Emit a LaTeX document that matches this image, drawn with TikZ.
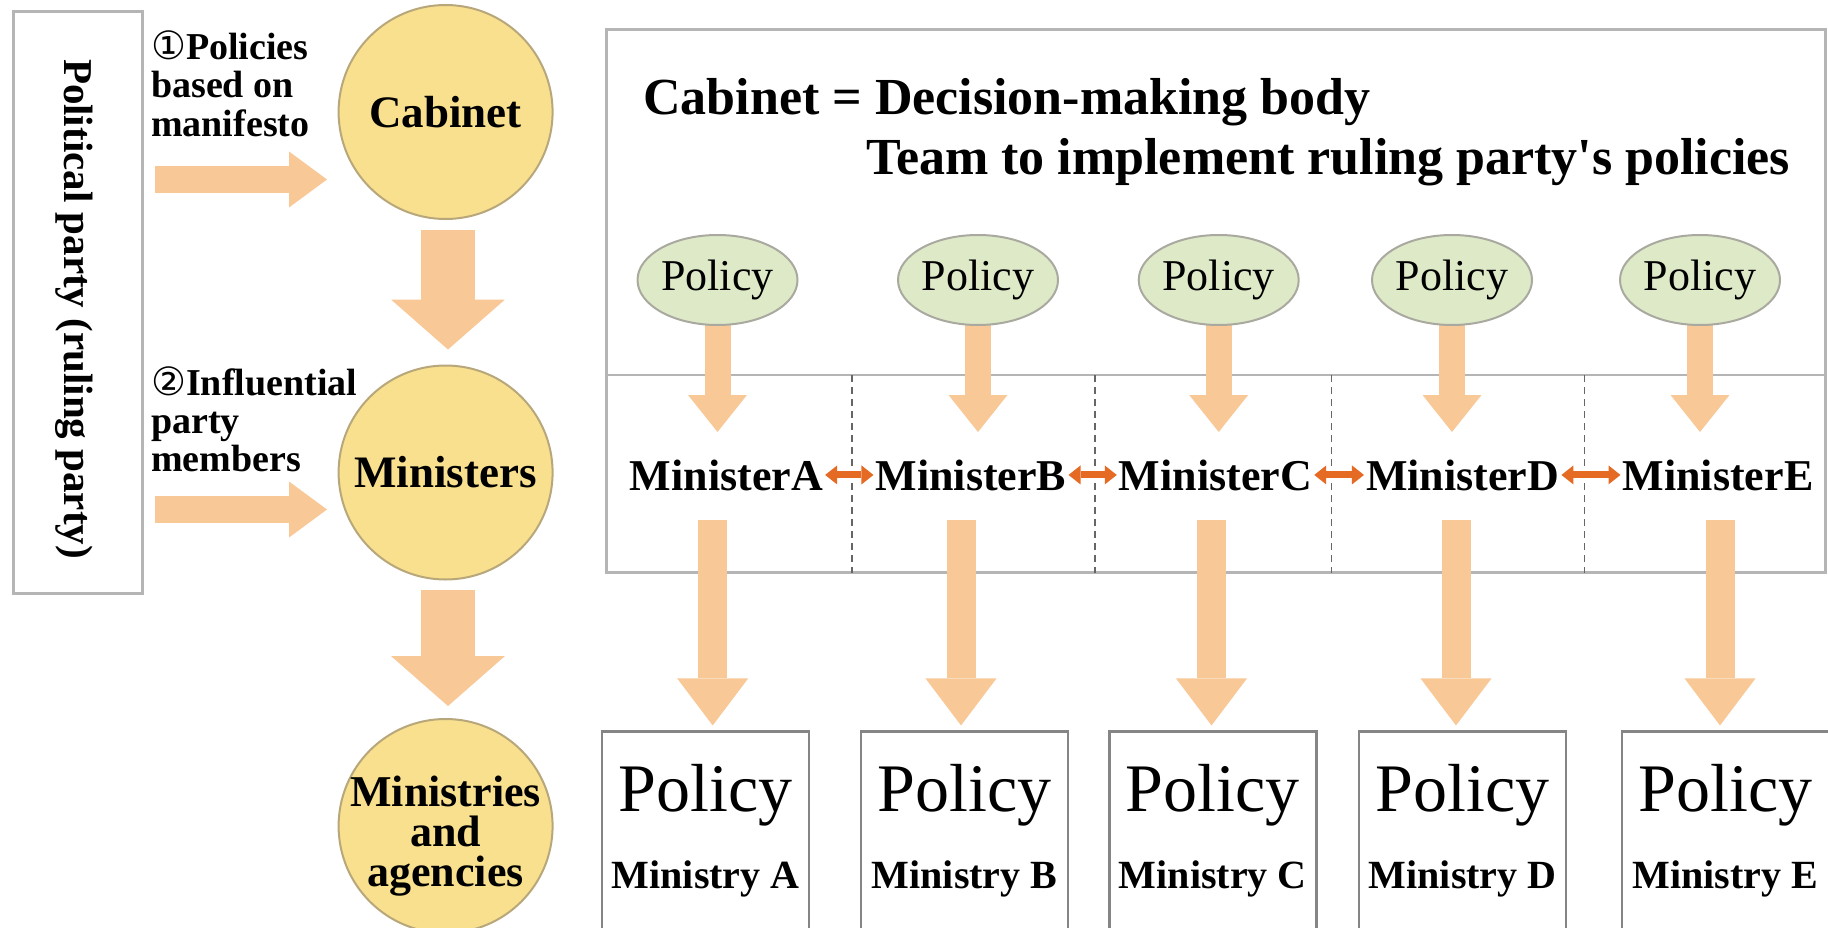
\documentclass[tikz,border=0pt]{standalone}
\usepackage{fontspec}
\setmainfont{Liberation Serif}
\newfontfamily\symf{DejaVu Sans}
\usetikzlibrary{arrows.meta,shapes.geometric}
\definecolor{peach}{HTML}{F8C897}
\definecolor{circfill}{HTML}{F8E08E}
\definecolor{circline}{HTML}{B8A77A}
\definecolor{polfill}{HTML}{DEE9C8}
\definecolor{polline}{HTML}{A9A9A0}
\definecolor{boxline}{HTML}{B5B5B5}
\definecolor{mboxline}{HTML}{858585}
\definecolor{darr}{HTML}{E56A24}
\newcommand{\fsz}[1]{\fontsize{#1}{#1}\selectfont}
\begin{document}
\begin{tikzpicture}[x=1pt,y=-1pt,
  bigcirc/.style={circle, draw=circline, line width=2pt, fill=circfill, minimum size=214pt, inner sep=0pt, align=center, font=\bfseries\fsz{45}},
  polell/.style={ellipse, draw=polline, line width=2pt, fill=polfill, minimum width=160pt, minimum height=90pt, inner sep=0pt, font=\fsz{44}},
  mtext/.style={anchor=base, inner sep=1pt, font=\bfseries\fsz{44}},
  mbox/.style={draw=mboxline, line width=2.5pt, minimum width=207pt, minimum height=240pt, inner sep=0pt},
  bigpol/.style={anchor=base, inner sep=0pt, font=\fsz{68}},
  mname/.style={anchor=base, inner sep=0pt, font=\bfseries\fsz{40}},
  lbl/.style={anchor=base west, inner sep=0pt, font=\bfseries\fsz{38}},
  ttl/.style={anchor=base west, inner sep=0pt, font=\bfseries\fsz{52}},
  rarrow/.style={draw=peach, line width=27.6pt, -{Triangle[width=56pt,length=38pt,line width=0pt]}},
  darrow/.style={draw=peach, line width=54.7pt, -{Triangle[width=114pt,length=50pt,line width=0pt]}},
  parrow/.style={draw=peach, line width=26pt, -{Triangle[width=59pt,length=37pt,line width=0pt]}},
  larrow/.style={draw=peach, line width=29pt, -{Triangle[width=71pt,length=47pt,line width=0pt]}},
  dblarrow/.style={draw=darr, line width=7pt, {Triangle[width=19pt,length=12pt,line width=0pt]}-{Triangle[width=19pt,length=12pt,line width=0pt]}, shorten <=1pt, shorten >=1pt},
  divline/.style={draw=black!60, line width=1.5pt, dash pattern=on 7pt off 5pt}
]
\useasboundingbox (0,0) rectangle (1828,928);

% left column
\node[draw=boxline, line width=3pt, minimum width=129pt, minimum height=582pt, inner sep=0pt] (party) at (78,302.5) {};
\node[rotate=-90, inner sep=0pt, font=\bfseries\fsz{41}] (partytxt) at (74.6,309) {Political party (ruling party)};

\node[lbl] (l1a) at (151,60) {{\mdseries\symf\fsz{39}①}Policies};
\node[lbl] (l1b) at (151,97.7) {based on};
\node[lbl] (l1c) at (151,136.7) {manifesto};
\node[lbl] (l2a) at (151,395) {{\mdseries\symf\fsz{39}②}Influential};
\node[lbl] (l2b) at (151,433) {party};
\node[lbl] (l2c) at (151,471.7) {members};

\coordinate (r1e) at (327,179.5);
\coordinate (r2e) at (327,509.5);
\draw[rarrow, shorten <=11pt] (party.east |- r1e) -- (r1e);
\draw[rarrow, shorten <=11pt] (party.east |- r2e) -- (r2e);

\node[bigcirc] (cab) at (445.6,112) {Cabinet};
\node[bigcirc] (mins) at (445.6,472.5) {Ministers};
\node[bigcirc] (agen) at (445.6,826) {};
\node[inner sep=0pt, align=center, font=\bfseries\fontsize{44}{40}\selectfont] (agentxt) at (445.6,836) {Ministries\\and\\agencies};

\draw[darrow, shorten <=10pt, shorten >=15pt] ([xshift=2.4pt]cab.south) -- ([xshift=2.4pt]mins.north);
\draw[darrow, shorten <=9pt, shorten >=12pt] ([xshift=2.4pt]mins.south) -- ([xshift=2.4pt]agen.north);

% right panel
\draw[boxline, line width=3pt] (606,30) rectangle (1825,572.7);
\draw[boxline, line width=2pt] (606,375) -- (1825,375);
\foreach \x in {852,1095,1331.5,1584.5} \draw[divline] (\x,375) -- (\x,572.7);

\node[ttl] (t1) at (643,115) {Cabinet = Decision-making body};
\node[ttl] (t2) at (866,175) {Team to implement ruling party\textquotesingle s policies};

% policy ellipses and arrows
\foreach \n/\x in {A/717.5,B/978,C/1218.7,D/1452,E/1700}{
  \coordinate (pt\n) at (\x,432);
  \draw[parrow] (\x,300) -- (pt\n);
  \node[polell] (p\n) at (\x,280) {Policy};
}

% minister labels
\node[mtext] (mA) at (726.4,490) {MinisterA};
\node[mtext] (mB) at (971,490) {MinisterB};
\node[mtext] (mC) at (1215.5,490) {MinisterC};
\node[mtext] (mD) at (1462.7,490) {MinisterD};
\node[mtext] (mE) at (1718,490) {MinisterE};
\draw[dblarrow] (mA.east) -- (mB.west);
\draw[dblarrow] (mB.east) -- (mC.west);
\draw[dblarrow] (mC.east) -- (mD.west);
\draw[dblarrow] (mD.east) -- (mE.west);

% ministry boxes
\foreach \n/\x/\ax in {A/705.7/712.7,B/964.6/961,C/1212.8/1211.5,D/1462.7/1456,E/1725.5/1720}{
  \node[mbox] (b\n) at (\x,851.7) {};
  \node[bigpol] (bp\n) at (\x,811.7) {Policy};
  \node[mname] (bm\n) at (\x,888.3) {Ministry \n};
  \coordinate (la\n) at (\ax,520);
  \draw[larrow, shorten >=5pt] (la\n) -- (la\n |- b\n.north);
}
\end{tikzpicture}
\end{document}
